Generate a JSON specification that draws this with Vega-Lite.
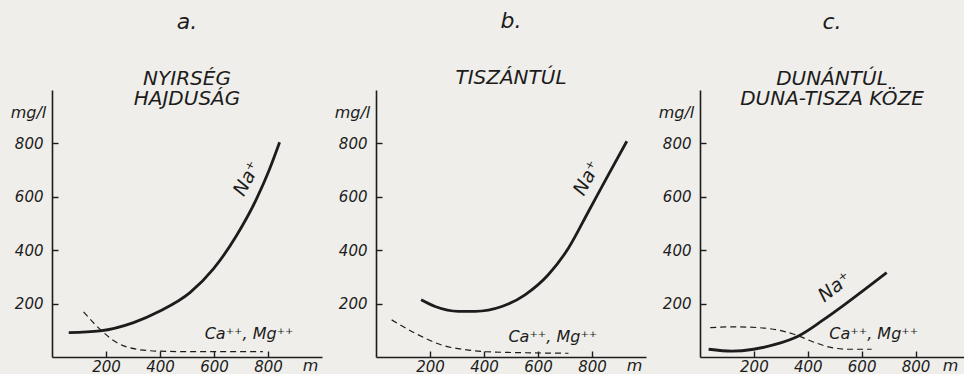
{
  "$schema": "https://vega.github.io/schema/vega-lite/v6.json",
  "background": "#efeeea",
  "padding": {"left": 10, "top": 10, "right": 0, "bottom": 2},
  "bounds": "flush",
  "spacing": 54,
  "config": {
    "font": "DejaVu Sans",
    "view": {"stroke": null},
    "axis": {
      "grid": false,
      "domainColor": "#1c1c1c",
      "domainWidth": 1.6,
      "tickColor": "#1c1c1c",
      "tickWidth": 1.4,
      "tickSize": -6,
      "labelFont": "DejaVu Sans",
      "labelFontStyle": "italic",
      "labelFontSize": 15,
      "labelColor": "#1c1c1c",
      "titleFont": "DejaVu Sans",
      "titleFontStyle": "italic",
      "titleFontWeight": "normal",
      "titleFontSize": 16,
      "titleColor": "#1c1c1c"
    },
    "axisX": {"labelPadding": 8},
    "axisY": {"labelPadding": 15},
    "title": {
      "font": "DejaVu Sans",
      "fontStyle": "italic",
      "fontWeight": "normal",
      "fontSize": 22,
      "color": "#1c1c1c",
      "subtitleFont": "DejaVu Sans",
      "subtitleFontStyle": "italic",
      "subtitleFontSize": 20,
      "subtitleColor": "#1c1c1c",
      "subtitleLineHeight": 20,
      "subtitlePadding": 35,
      "anchor": "middle"
    },
    "text": {"font": "DejaVu Sans", "fontStyle": "italic", "color": "#1c1c1c"}
  },
  "datasets": {
    "curves": [
      {"panel": "a", "series": "Na", "depth": 62, "mgl": 91},
      {"panel": "a", "series": "Na", "depth": 178, "mgl": 98},
      {"panel": "a", "series": "Na", "depth": 302, "mgl": 129},
      {"panel": "a", "series": "Na", "depth": 400, "mgl": 172},
      {"panel": "a", "series": "Na", "depth": 511, "mgl": 241},
      {"panel": "a", "series": "Na", "depth": 597, "mgl": 329},
      {"panel": "a", "series": "Na", "depth": 683, "mgl": 454},
      {"panel": "a", "series": "Na", "depth": 757, "mgl": 591},
      {"panel": "a", "series": "Na", "depth": 806, "mgl": 704},
      {"panel": "a", "series": "Na", "depth": 843, "mgl": 804},
      {"panel": "a", "series": "CaMg", "depth": 117, "mgl": 169},
      {"panel": "a", "series": "CaMg", "depth": 184, "mgl": 98},
      {"panel": "a", "series": "CaMg", "depth": 240, "mgl": 54},
      {"panel": "a", "series": "CaMg", "depth": 314, "mgl": 29},
      {"panel": "a", "series": "CaMg", "depth": 394, "mgl": 22},
      {"panel": "a", "series": "CaMg", "depth": 500, "mgl": 20},
      {"panel": "a", "series": "CaMg", "depth": 650, "mgl": 20},
      {"panel": "a", "series": "CaMg", "depth": 781, "mgl": 20},
      {"panel": "b", "series": "Na", "depth": 167, "mgl": 214},
      {"panel": "b", "series": "Na", "depth": 219, "mgl": 189},
      {"panel": "b", "series": "Na", "depth": 305, "mgl": 171},
      {"panel": "b", "series": "Na", "depth": 367, "mgl": 171},
      {"panel": "b", "series": "Na", "depth": 466, "mgl": 189},
      {"panel": "b", "series": "Na", "depth": 552, "mgl": 233},
      {"panel": "b", "series": "Na", "depth": 638, "mgl": 308},
      {"panel": "b", "series": "Na", "depth": 713, "mgl": 408},
      {"panel": "b", "series": "Na", "depth": 787, "mgl": 545},
      {"panel": "b", "series": "Na", "depth": 861, "mgl": 683},
      {"panel": "b", "series": "Na", "depth": 929, "mgl": 808},
      {"panel": "b", "series": "CaMg", "depth": 58, "mgl": 139},
      {"panel": "b", "series": "CaMg", "depth": 145, "mgl": 89},
      {"panel": "b", "series": "CaMg", "depth": 243, "mgl": 45},
      {"panel": "b", "series": "CaMg", "depth": 342, "mgl": 26},
      {"panel": "b", "series": "CaMg", "depth": 404, "mgl": 20},
      {"panel": "b", "series": "CaMg", "depth": 550, "mgl": 16},
      {"panel": "b", "series": "CaMg", "depth": 713, "mgl": 14},
      {"panel": "c", "series": "Na", "depth": 32, "mgl": 29},
      {"panel": "c", "series": "Na", "depth": 119, "mgl": 22},
      {"panel": "c", "series": "Na", "depth": 199, "mgl": 29},
      {"panel": "c", "series": "Na", "depth": 279, "mgl": 47},
      {"panel": "c", "series": "Na", "depth": 366, "mgl": 79},
      {"panel": "c", "series": "Na", "depth": 452, "mgl": 135},
      {"panel": "c", "series": "Na", "depth": 538, "mgl": 197},
      {"panel": "c", "series": "Na", "depth": 613, "mgl": 254},
      {"panel": "c", "series": "Na", "depth": 693, "mgl": 316},
      {"panel": "c", "series": "CaMg", "depth": 38, "mgl": 110},
      {"panel": "c", "series": "CaMg", "depth": 119, "mgl": 113},
      {"panel": "c", "series": "CaMg", "depth": 217, "mgl": 110},
      {"panel": "c", "series": "CaMg", "depth": 304, "mgl": 98},
      {"panel": "c", "series": "CaMg", "depth": 366, "mgl": 79},
      {"panel": "c", "series": "CaMg", "depth": 427, "mgl": 54},
      {"panel": "c", "series": "CaMg", "depth": 489, "mgl": 35},
      {"panel": "c", "series": "CaMg", "depth": 551, "mgl": 29},
      {"panel": "c", "series": "CaMg", "depth": 637, "mgl": 29}
    ],
    "labels": [
      {"panel": "a", "series": "Na", "depth": 722, "mgl": 668, "label": "Na⁺"},
      {"panel": "a", "series": "CaMg", "depth": 730, "mgl": 85, "label": "Ca⁺⁺, Mg⁺⁺"},
      {"panel": "b", "series": "Na", "depth": 781, "mgl": 670, "label": "Na⁺"},
      {"panel": "b", "series": "CaMg", "depth": 655, "mgl": 75, "label": "Ca⁺⁺, Mg⁺⁺"},
      {"panel": "c", "series": "Na", "depth": 500, "mgl": 262, "label": "Na⁺"},
      {"panel": "c", "series": "CaMg", "depth": 645, "mgl": 85, "label": "Ca⁺⁺, Mg⁺⁺"}
    ]
  },
  "hconcat": [
    {
      "width": 270,
      "height": 267,
      "title": {"text": "a.", "subtitle": ["NYIRSÉG", "HAJDUSÁG"], "offset": -20},
      "layer": [
        {
          "data": {"name": "curves"},
          "transform": [{"filter": "datum.panel === 'a' && datum.series === 'Na'"}],
          "mark": {"type": "line", "interpolate": "monotone", "color": "#1c1c1c", "strokeWidth": 2.8},
          "encoding": {
            "x": {"field": "depth", "type": "quantitative", "scale": {"domain": [0, 1000], "nice": false}, "axis": {"values": [200, 400, 600, 800], "title": "m", "titleX": 258, "titleY": 13, "titleAlign": "center", "titleBaseline": "alphabetic"}},
            "y": {"field": "mgl", "type": "quantitative", "scale": {"domain": [0, 1000], "nice": false}, "axis": {"values": [200, 400, 600, 800], "title": "mg/l", "titleAngle": 0, "titleX": -24, "titleY": 22, "titleAlign": "center", "titleBaseline": "middle"}}
          }
        },
        {
          "data": {"name": "curves"},
          "transform": [{"filter": "datum.panel === 'a' && datum.series === 'CaMg'"}],
          "mark": {"type": "line", "interpolate": "monotone", "color": "#1c1c1c", "strokeWidth": 1.2, "strokeDash": [6, 4]},
          "encoding": {"x": {"field": "depth", "type": "quantitative"}, "y": {"field": "mgl", "type": "quantitative"}}
        },
        {
          "data": {"name": "labels"},
          "transform": [{"filter": "datum.panel === 'a' && datum.series === 'Na'"}],
          "mark": {"type": "text", "fontSize": 19, "angle": -62, "align": "center", "baseline": "middle"},
          "encoding": {"x": {"field": "depth", "type": "quantitative"}, "y": {"field": "mgl", "type": "quantitative"}, "text": {"field": "label"}}
        },
        {
          "data": {"name": "labels"},
          "transform": [{"filter": "datum.panel === 'a' && datum.series === 'CaMg'"}],
          "mark": {"type": "text", "fontSize": 16, "align": "center", "baseline": "middle"},
          "encoding": {"x": {"field": "depth", "type": "quantitative"}, "y": {"field": "mgl", "type": "quantitative"}, "text": {"field": "label"}}
        }
      ]
    },
    {
      "width": 270,
      "height": 267,
      "title": {"text": "b.", "subtitle": ["TISZÁNTÚL"], "offset": 1},
      "layer": [
        {
          "data": {"name": "curves"},
          "transform": [{"filter": "datum.panel === 'b' && datum.series === 'Na'"}],
          "mark": {"type": "line", "interpolate": "monotone", "color": "#1c1c1c", "strokeWidth": 2.8},
          "encoding": {
            "x": {"field": "depth", "type": "quantitative", "scale": {"domain": [0, 1000], "nice": false}, "axis": {"values": [200, 400, 600, 800], "title": "m", "titleX": 258, "titleY": 13, "titleAlign": "center", "titleBaseline": "alphabetic"}},
            "y": {"field": "mgl", "type": "quantitative", "scale": {"domain": [0, 1000], "nice": false}, "axis": {"values": [200, 400, 600, 800], "title": "mg/l", "titleAngle": 0, "titleX": -24, "titleY": 22, "titleAlign": "center", "titleBaseline": "middle"}}
          }
        },
        {
          "data": {"name": "curves"},
          "transform": [{"filter": "datum.panel === 'b' && datum.series === 'CaMg'"}],
          "mark": {"type": "line", "interpolate": "monotone", "color": "#1c1c1c", "strokeWidth": 1.2, "strokeDash": [6, 4]},
          "encoding": {"x": {"field": "depth", "type": "quantitative"}, "y": {"field": "mgl", "type": "quantitative"}}
        },
        {
          "data": {"name": "labels"},
          "transform": [{"filter": "datum.panel === 'b' && datum.series === 'Na'"}],
          "mark": {"type": "text", "fontSize": 19, "angle": -62, "align": "center", "baseline": "middle"},
          "encoding": {"x": {"field": "depth", "type": "quantitative"}, "y": {"field": "mgl", "type": "quantitative"}, "text": {"field": "label"}}
        },
        {
          "data": {"name": "labels"},
          "transform": [{"filter": "datum.panel === 'b' && datum.series === 'CaMg'"}],
          "mark": {"type": "text", "fontSize": 16, "align": "center", "baseline": "middle"},
          "encoding": {"x": {"field": "depth", "type": "quantitative"}, "y": {"field": "mgl", "type": "quantitative"}, "text": {"field": "label"}}
        }
      ]
    },
    {
      "width": 264,
      "height": 267,
      "title": {"text": "c.", "subtitle": ["DUNÁNTÚL", "DUNA-TISZA KÖZE"], "offset": -20},
      "layer": [
        {
          "data": {"name": "curves"},
          "transform": [{"filter": "datum.panel === 'c' && datum.series === 'Na'"}],
          "mark": {"type": "line", "interpolate": "monotone", "color": "#1c1c1c", "strokeWidth": 2.8},
          "encoding": {
            "x": {"field": "depth", "type": "quantitative", "scale": {"domain": [0, 980], "nice": false}, "axis": {"values": [200, 400, 600, 800], "title": "m", "titleX": 250, "titleY": 13, "titleAlign": "center", "titleBaseline": "alphabetic"}},
            "y": {"field": "mgl", "type": "quantitative", "scale": {"domain": [0, 1000], "nice": false}, "axis": {"values": [200, 400, 600, 800], "title": "mg/l", "titleAngle": 0, "titleX": -24, "titleY": 22, "titleAlign": "center", "titleBaseline": "middle"}}
          }
        },
        {
          "data": {"name": "curves"},
          "transform": [{"filter": "datum.panel === 'c' && datum.series === 'CaMg'"}],
          "mark": {"type": "line", "interpolate": "monotone", "color": "#1c1c1c", "strokeWidth": 1.2, "strokeDash": [6, 4]},
          "encoding": {"x": {"field": "depth", "type": "quantitative"}, "y": {"field": "mgl", "type": "quantitative"}}
        },
        {
          "data": {"name": "labels"},
          "transform": [{"filter": "datum.panel === 'c' && datum.series === 'Na'"}],
          "mark": {"type": "text", "fontSize": 19, "angle": -38, "align": "center", "baseline": "middle"},
          "encoding": {"x": {"field": "depth", "type": "quantitative"}, "y": {"field": "mgl", "type": "quantitative"}, "text": {"field": "label"}}
        },
        {
          "data": {"name": "labels"},
          "transform": [{"filter": "datum.panel === 'c' && datum.series === 'CaMg'"}],
          "mark": {"type": "text", "fontSize": 16, "align": "center", "baseline": "middle"},
          "encoding": {"x": {"field": "depth", "type": "quantitative"}, "y": {"field": "mgl", "type": "quantitative"}, "text": {"field": "label"}}
        }
      ]
    }
  ]
}
